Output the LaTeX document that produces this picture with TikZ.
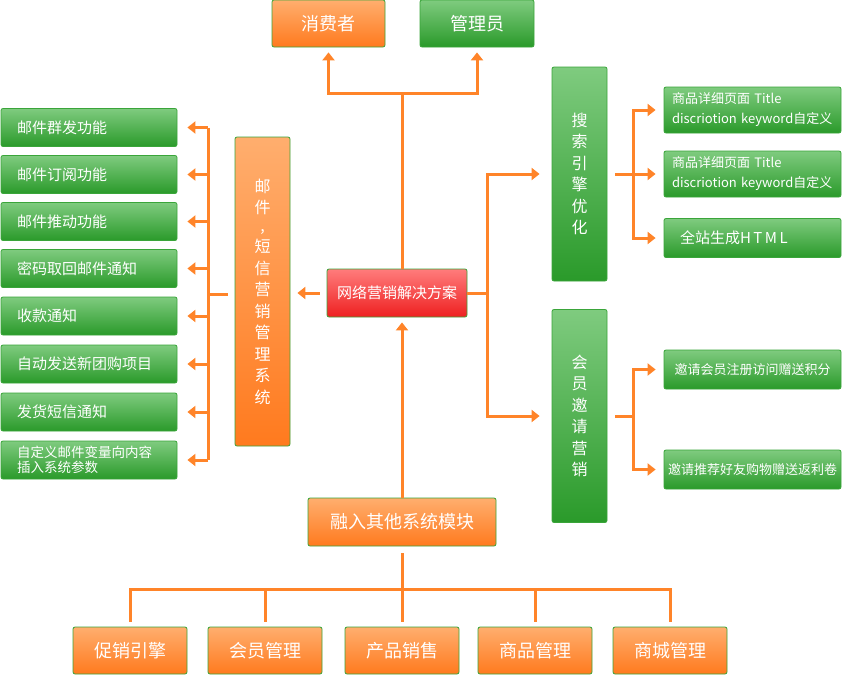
\documentclass[tikz,border=0pt]{standalone}
\usepackage{fontspec}
\setmainfont{Noto Sans CJK SC}
\usetikzlibrary{arrows.meta}
\definecolor{linkorange}{HTML}{FF8429}
\definecolor{greentop}{HTML}{7FCB7F}
\definecolor{greenmid}{HTML}{4DB04D}
\definecolor{greenbot}{HTML}{2A9A2A}
\definecolor{orangetop}{HTML}{FFAE6E}
\definecolor{orangemid}{HTML}{FF9444}
\definecolor{orangebot}{HTML}{FF7A1E}
\definecolor{redtop}{HTML}{FF7C7C}
\definecolor{redmid}{HTML}{FF4A4A}
\definecolor{redbot}{HTML}{EE2020}
\definecolor{boxedge}{HTML}{3AA53A}

\begin{document}
\begin{tikzpicture}[x=1pt,y=-1pt,
  box/.style={draw=boxedge,line width=0.8pt,rounded corners=2pt,text=white,inner sep=0pt},
  greenbox/.style={box,top color=greentop,middle color=greenmid,bottom color=greenbot},
  orangebox/.style={box,top color=orangetop,middle color=orangemid,bottom color=orangebot},
  redbox/.style={box,top color=redtop,middle color=redmid,bottom color=redbot},
  title/.style={font=\fontsize{18}{20}\selectfont},
  vtext/.style={align=center,font=\fontsize{16}{21.5}\selectfont},
  leftitem/.style={greenbox,minimum width=176pt,minimum height=38pt,align=left,text width=144pt,font=\fontsize{15}{16}\selectfont},
  rightitem/.style={greenbox,minimum width=177pt,font=\fontsize{13}{20}\selectfont},
  module/.style={orangebox,title,minimum width=114pt,minimum height=47pt},
  link/.style={linkorange,line width=3pt},
  arr/.style={link,-{Triangle[width=12pt,length=8pt]}}]
  \useasboundingbox (0,0) rectangle (842,675);

  % top
  \node[orangebox,title,minimum width=113pt,minimum height=47pt] (consumer) at (328.5,23.5) {消费者};
  \node[greenbox,title,minimum width=114pt,minimum height=47pt] (admin) at (477,23.5) {管理员};

  % centre
  \node[redbox,minimum width=140pt,minimum height=48pt,font=\fontsize{15}{16}\selectfont] (plan) at (397,293) {网络营销解决方案};
  \coordinate (tbus) at (402,93);
  \draw[link] (plan.north -| tbus) -- (tbus);
  \draw[arr,shorten >=5pt] (tbus) -| (consumer.south);
  \draw[arr,shorten >=5pt] (tbus) -| (admin.south);

  % mail / sms
  \node[orangebox,vtext,minimum width=55pt,minimum height=309pt] (mailsys) at (262.5,291.5)
    {邮\\件\\[-4pt],\\短\\信\\营\\销\\管\\理\\系\\统};
  \draw[arr,shorten <=7pt,shorten >=7pt] (plan.west) -- (plan.west -| mailsys.east);
  \node[leftitem] (mail1) at (89,127.5) {邮件群发功能};
  \node[leftitem] (mail2) at (89,174.5) {邮件订阅功能};
  \node[leftitem] (mail3) at (89,221.5) {邮件推动功能};
  \node[leftitem] (mail4) at (89,268.5) {密码取回邮件通知};
  \node[leftitem] (mail5) at (89,316) {收款通知};
  \node[leftitem] (mail6) at (89,364) {自动发送新团购项目};
  \node[leftitem] (mail7) at (89,412) {发货短信通知};
  \node[leftitem,font=\fontsize{13.5}{15}\selectfont] (mail8) at (89,460) {自定义邮件变量向内容\\插入系统参数};
  \coordinate (lbus) at (208,294);
  \draw[link,shorten <=7pt] (mailsys.west |- lbus) -- (lbus);
  \draw[link] (lbus |- mail1) -- (lbus |- mail8);
  \draw[arr,shorten >=10pt] (lbus |- mail1) -- (mail1.east);
  \draw[arr,shorten >=10pt] (lbus |- mail2) -- (mail2.east);
  \draw[arr,shorten >=10pt] (lbus |- mail3) -- (mail3.east);
  \draw[arr,shorten >=10pt] (lbus |- mail4) -- (mail4.east);
  \draw[arr,shorten >=10pt] (lbus |- mail5) -- (mail5.east);
  \draw[arr,shorten >=10pt] (lbus |- mail6) -- (mail6.east);
  \draw[arr,shorten >=10pt] (lbus |- mail7) -- (mail7.east);
  \draw[arr,shorten >=10pt] (lbus |- mail8) -- (mail8.east);

  % right side
  \node[greenbox,vtext,minimum width=55pt,minimum height=214pt] (seo) at (579.5,174) {搜\\索\\引\\擎\\优\\化};
  \node[greenbox,vtext,minimum width=55pt,minimum height=213pt] (invite) at (579.5,416) {会\\员\\邀\\请\\营\\销};
  \coordinate (rbus) at (487,293);
  \draw[link] (plan.east) -- (rbus);
  \draw[arr,shorten >=12pt] (rbus) |- (seo.west);
  \draw[arr,shorten >=12pt] (rbus) |- (invite.west);

  \node[rightitem,minimum height=46pt,align=left,text width=161pt] (kw1) at (752.5,110) {商品详细页面 Title\\discriotion keyword自定义};
  \node[rightitem,minimum height=46pt,align=left,text width=161pt] (kw2) at (752.5,174) {商品详细页面 Title\\discriotion keyword自定义};
  \node[rightitem,minimum height=39pt,align=left,text width=145pt,font=\fontsize{15}{16}\selectfont] (html) at (752.5,238) {全站生成H\,T\,M\,L};
  \coordinate (sbus) at (633,174);
  \draw[link,shorten <=8pt] (seo.east) -- (sbus);
  \draw[arr,shorten >=8pt] (sbus) |- (kw1.west);
  \draw[arr,shorten >=8pt] (sbus) -- (kw2.west);
  \draw[arr,shorten >=8pt] (sbus) |- (html.west);

  \node[rightitem,minimum height=39pt,align=center] (inv1) at (752.5,369.5) {邀请会员注册访问赠送积分};
  \node[rightitem,minimum height=39pt,align=center] (inv2) at (752.5,469.5) {邀请推荐好友购物赠送返利卷};
  \coordinate (ibus) at (633,416);
  \draw[link,shorten <=8pt] (invite.east) -- (ibus);
  \draw[arr,shorten >=8pt] (ibus) |- (inv1.west);
  \draw[arr,shorten >=8pt] (ibus) |- (inv2.west);

  % bottom
  \node[orangebox,title,minimum width=188pt,minimum height=48pt] (merge) at (402,522) {融入其他系统模块};
  \draw[arr,shorten >=5pt] (merge.north) -- (merge.north |- plan.south);
  \node[module] (mod1) at (130,650.5) {促销引擎};
  \node[module] (mod2) at (265,650.5) {会员管理};
  \node[module] (mod3) at (402,650.5) {产品销售};
  \node[module] (mod4) at (535,650.5) {商品管理};
  \node[module] (mod5) at (670,650.5) {商城管理};
  \coordinate (bbus) at (402,589);
  \draw[link,shorten <=7pt] (merge.south) -- (bbus);
  \draw[link,shorten >=5pt] (bbus) -| (mod1.north);
  \draw[link,shorten >=5pt] (bbus) -| (mod2.north);
  \draw[link,shorten >=5pt] (bbus) -- (mod3.north);
  \draw[link,shorten >=5pt] (bbus) -| (mod4.north);
  \draw[link,shorten >=5pt] (bbus) -| (mod5.north);
\end{tikzpicture}
\end{document}
